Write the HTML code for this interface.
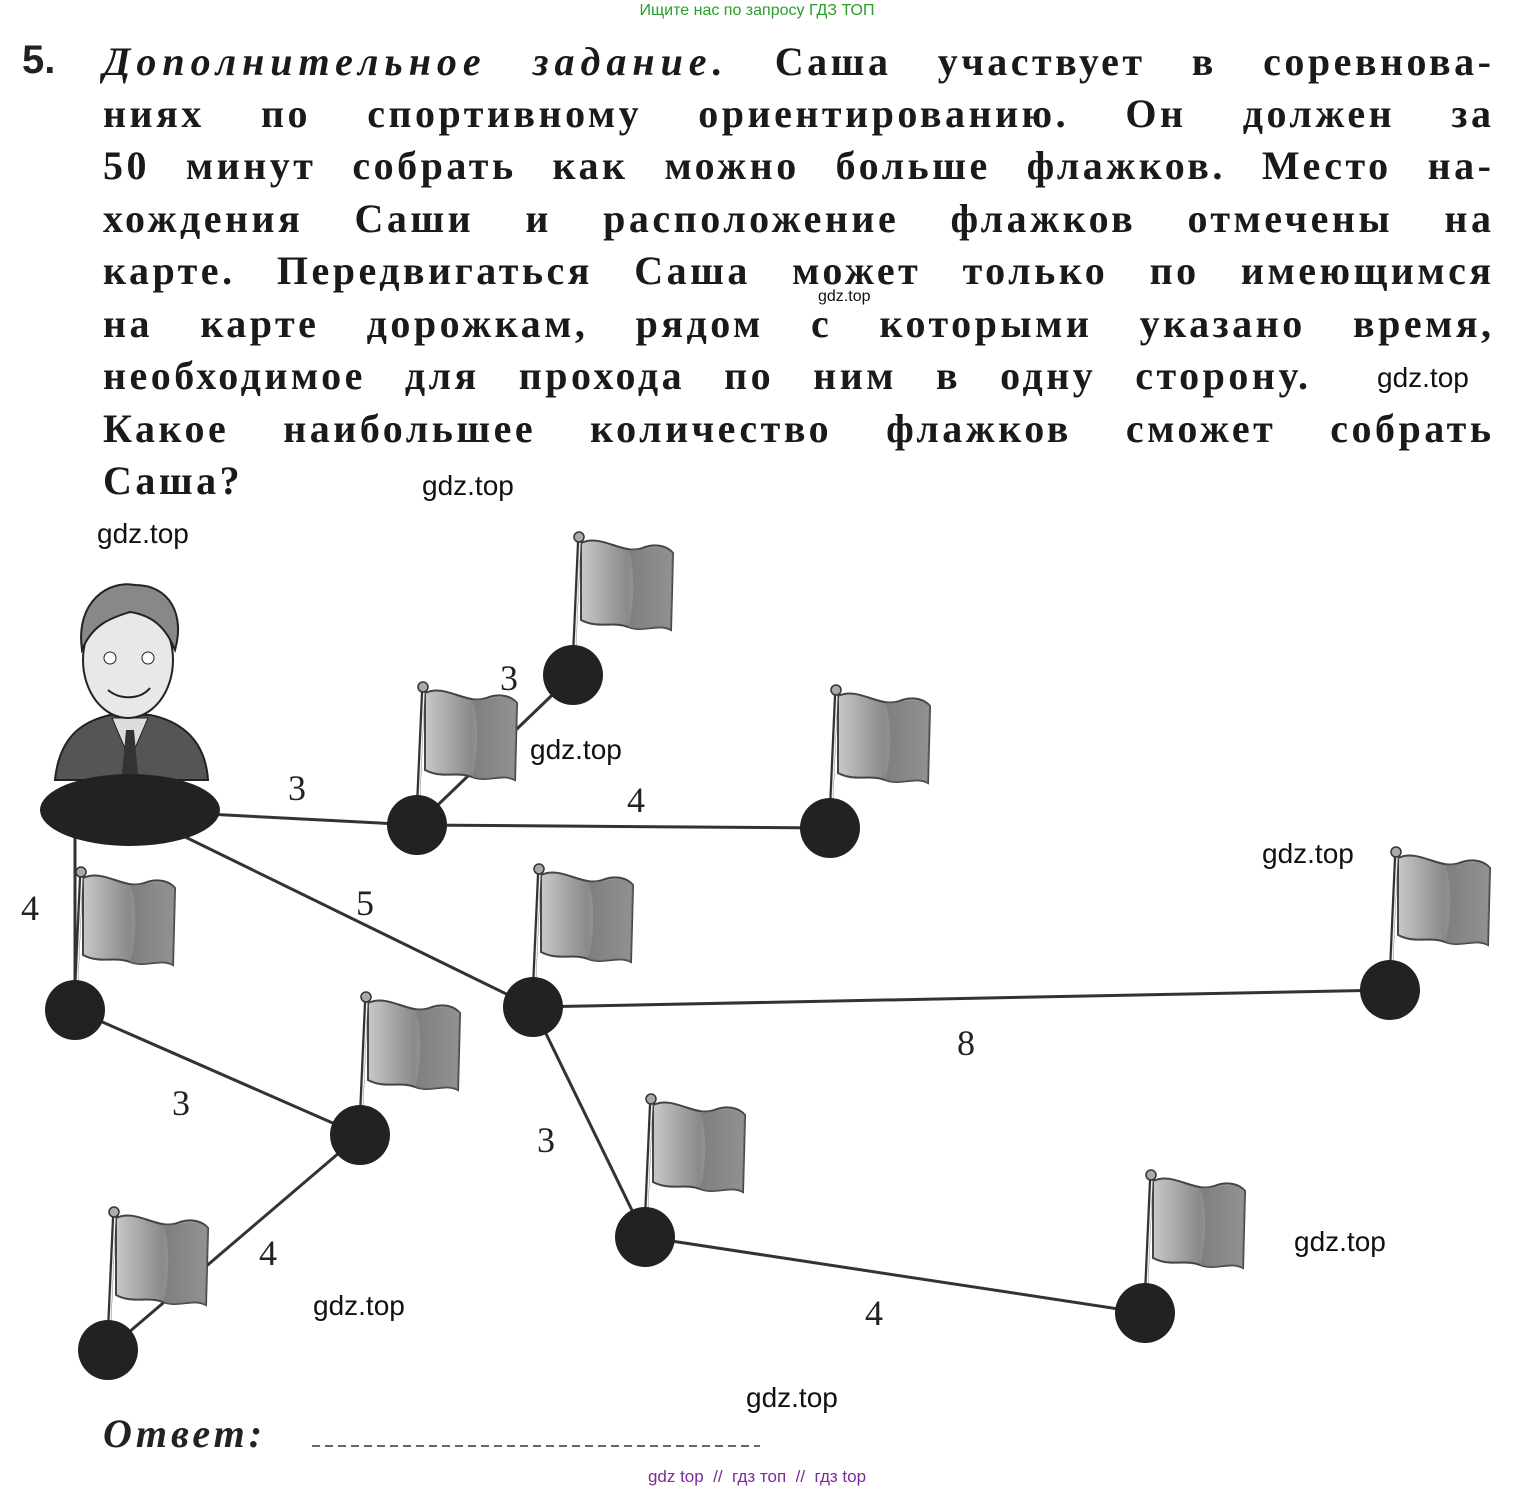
<!DOCTYPE html>
<html><head><meta charset="utf-8"><style>
html,body{margin:0;padding:0;background:#fff;}
body{width:1514px;height:1492px;position:relative;overflow:hidden;}
.t{position:absolute;left:103px;width:1388px;font-family:"Liberation Serif",serif;font-weight:bold;font-size:40px;color:#1a1a1a;white-space:nowrap;letter-spacing:3.5px;display:flex;justify-content:space-between;}
.t span:last-child,.t i:last-child{margin-right:-3.5px}
.t i{letter-spacing:6px}
.w{position:absolute;font-family:"Liberation Sans",sans-serif;font-size:28px;color:#111;}
.lbl{font-family:"Liberation Serif",serif;font-size:36px;fill:#222;}
</style></head><body>
<div style="position:absolute;top:2px;left:0;width:1514px;text-align:center;font-family:'Liberation Sans',sans-serif;font-size:16px;color:#2a9d2a;">Ищите нас по запросу ГДЗ ТОП</div>
<div style="position:absolute;left:22px;top:38px;font-family:'Liberation Sans',sans-serif;font-weight:bold;font-size:40px;color:#222;">5.</div>
<div class="t" style="top:38px;"><i>Дополнительное</i><i>задание.</i><span>Саша</span><span>участвует</span><span>в</span><span>соревнова-</span></div>
<div class="t" style="top:90px;"><span>ниях</span><span>по</span><span>спортивному</span><span>ориентированию.</span><span>Он</span><span>должен</span><span>за</span></div>
<div class="t" style="top:142px;"><span>50</span><span>минут</span><span>собрать</span><span>как</span><span>можно</span><span>больше</span><span>флажков.</span><span>Место</span><span>на-</span></div>
<div class="t" style="top:195px;"><span>хождения</span><span>Саши</span><span>и</span><span>расположение</span><span>флажков</span><span>отмечены</span><span>на</span></div>
<div class="t" style="top:247px;"><span>карте.</span><span>Передвигаться</span><span>Саша</span><span>может</span><span>только</span><span>по</span><span>имеющимся</span></div>
<div class="t" style="top:300px;"><span>на</span><span>карте</span><span>дорожкам,</span><span>рядом</span><span>с</span><span>которыми</span><span>указано</span><span>время,</span></div>
<div class="t" style="top:352px;width:1205px;"><span>необходимое</span><span>для</span><span>прохода</span><span>по</span><span>ним</span><span>в</span><span>одну</span><span>сторону.</span></div>
<div class="t" style="top:405px;"><span>Какое</span><span>наибольшее</span><span>количество</span><span>флажков</span><span>сможет</span><span>собрать</span></div>
<div class="t" style="top:457px;"><span>Саша?</span></div>

<svg style="position:absolute;left:0;top:0" width="1514" height="1492">
<defs>
<linearGradient id="fg" x1="0" x2="1"><stop offset="0" stop-color="#c8c8c8"/><stop offset=".5" stop-color="#8a8a8a"/><stop offset="1" stop-color="#bbb"/></linearGradient>
<g id="flag">
<path d="M8,-132 C30,-142 50,-118 72,-128 C85,-132 95,-128 100,-122 L98,-45 C85,-52 70,-42 55,-48 C40,-54 25,-46 8,-55 Z" fill="url(#fg)" stroke="#444" stroke-width="2"/>
<path d="M55,-125 C62,-110 62,-70 55,-48 C70,-42 85,-52 98,-45 L100,-122 C92,-130 80,-128 70,-126 Z" fill="#777" opacity=".6"/>
<line x1="0" y1="0" x2="6" y2="-135" stroke="#333" stroke-width="4"/>
<line x1="1" y1="0" x2="7" y2="-135" stroke="#eee" stroke-width="1.5"/>
<circle cx="6" cy="-138" r="5" fill="#aaa" stroke="#333" stroke-width="1.5"/>
</g>
</defs>
<g stroke="#333" stroke-width="3">
<line x1="130" y1="810" x2="417" y2="825"/>
<line x1="417" y1="825" x2="573" y2="675"/>
<line x1="417" y1="825" x2="830" y2="828"/>
<line x1="130" y1="810" x2="533" y2="1007"/>
<line x1="75" y1="810" x2="75" y2="1010"/>
<line x1="533" y1="1007" x2="1390" y2="990"/>
<line x1="75" y1="1010" x2="360" y2="1135"/>
<line x1="533" y1="1007" x2="645" y2="1237"/>
<line x1="360" y1="1135" x2="108" y2="1350"/>
<line x1="645" y1="1237" x2="1145" y2="1313"/>
</g>
<path d="M55,780 C60,730 90,720 110,715 L150,715 C175,720 205,735 208,780 Z" fill="#555" stroke="#222" stroke-width="2"/>
<path d="M112,718 L130,760 L148,718 Z" fill="#ddd" stroke="#222"/>
<path d="M126,730 L134,730 L138,775 L130,782 L122,775 Z" fill="#333"/>
<ellipse cx="128" cy="660" rx="45" ry="58" fill="#e8e8e8" stroke="#222" stroke-width="2"/>
<path d="M82,650 C75,600 110,580 135,585 C170,585 185,615 175,650 C165,625 150,615 130,612 C110,618 92,625 82,650 Z" fill="#888" stroke="#222" stroke-width="2"/>
<circle cx="110" cy="658" r="6" fill="#fff" stroke="#222"/><circle cx="148" cy="658" r="6" fill="#fff" stroke="#222"/>
<path d="M108,690 C120,700 140,700 150,688" fill="none" stroke="#222" stroke-width="2"/>
<ellipse cx="130" cy="810" rx="90" ry="36" fill="#222"/>
<use href="#flag" x="573" y="675"/>
<use href="#flag" x="417" y="825"/>
<use href="#flag" x="830" y="828"/>
<use href="#flag" x="75" y="1010"/>
<use href="#flag" x="533" y="1007"/>
<use href="#flag" x="1390" y="990"/>
<use href="#flag" x="360" y="1135"/>
<use href="#flag" x="645" y="1237"/>
<use href="#flag" x="108" y="1350"/>
<use href="#flag" x="1145" y="1313"/>
<g fill="#222">
<circle cx="573" cy="675" r="30"/><circle cx="417" cy="825" r="30"/><circle cx="830" cy="828" r="30"/>
<circle cx="75" cy="1010" r="30"/><circle cx="533" cy="1007" r="30"/><circle cx="1390" cy="990" r="30"/>
<circle cx="360" cy="1135" r="30"/><circle cx="645" cy="1237" r="30"/><circle cx="108" cy="1350" r="30"/>
<circle cx="1145" cy="1313" r="30"/>
</g>
<g class="lbl">
<text x="288" y="800">3</text><text x="500" y="690">3</text><text x="627" y="812">4</text>
<text x="356" y="915">5</text><text x="21" y="920">4</text><text x="957" y="1055">8</text>
<text x="172" y="1115">3</text><text x="537" y="1152">3</text><text x="259" y="1265">4</text>
<text x="865" y="1325">4</text>
</g>
<line x1="312" y1="1446" x2="760" y2="1446" stroke="#666" stroke-width="2" stroke-dasharray="8,5"/>
</svg>
<div style="position:absolute;left:103px;top:1410px;font-family:'Liberation Serif',serif;font-style:italic;font-weight:bold;font-size:40px;color:#222;letter-spacing:4px;">Ответ:</div>

<div class="w" style="left:818px;top:288px;font-size:16px;">gdz.top</div>
<div class="w" style="left:1377px;top:362px;">gdz.top</div>
<div class="w" style="left:422px;top:470px;">gdz.top</div>
<div class="w" style="left:97px;top:518px;">gdz.top</div>
<div class="w" style="left:530px;top:734px;">gdz.top</div>
<div class="w" style="left:1262px;top:838px;">gdz.top</div>
<div class="w" style="left:1294px;top:1226px;">gdz.top</div>
<div class="w" style="left:313px;top:1290px;">gdz.top</div>
<div class="w" style="left:746px;top:1382px;">gdz.top</div>
<div style="position:absolute;top:1467px;left:0;width:1514px;text-align:center;font-family:'Liberation Sans',sans-serif;font-size:17px;color:#7a2a9a;">gdz top&nbsp; //&nbsp; гдз топ&nbsp; //&nbsp; гдз top</div>
</body></html>
